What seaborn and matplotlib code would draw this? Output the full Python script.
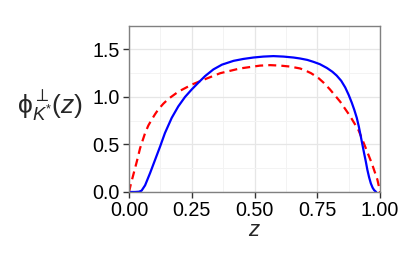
import pandas as pd
import matplotlib
matplotlib.use('Agg')
from matplotlib import pyplot as plt
from matplotlib.ticker import MultipleLocator
import seaborn as sns

# Values
z_red = [0.0, 0.008, 0.017, 0.031, 0.044, 0.064, 0.077, 0.09, 0.104, 0.117, 0.137,
         0.157, 0.196, 0.25, 0.296, 0.363, 0.442, 0.522, 0.562, 0.602, 0.641, 0.681,
         0.701, 0.725, 0.754, 0.775, 0.8, 0.841, 0.88, 0.914, 0.94, 0.967, 0.989, 1.0]
phi_red = [0.0, 0.09, 0.18, 0.32, 0.46, 0.62, 0.70, 0.76, 0.82, 0.87, 0.93,
           0.98, 1.055, 1.13, 1.18, 1.25, 1.30, 1.33, 1.335, 1.33, 1.32, 1.30,
           1.28, 1.25, 1.20, 1.15, 1.08, 0.95, 0.80, 0.65, 0.48, 0.30, 0.13, 0.0]

z_blue = [0.0, 0.024, 0.04, 0.05, 0.064, 0.084, 0.104, 0.124, 0.143, 0.17, 0.196,
          0.223, 0.25, 0.276, 0.303, 0.336, 0.37, 0.416, 0.455, 0.495, 0.535, 0.575,
          0.615, 0.655, 0.681, 0.71, 0.734, 0.76, 0.788, 0.81, 0.827, 0.845, 0.861,
          0.875, 0.887, 0.897, 0.907, 0.915, 0.923, 0.93, 0.936, 0.943, 0.949, 0.956,
          0.963, 0.97, 0.976, 0.984]
phi_blue = [0.0, 0.0, 0.003, 0.014, 0.07, 0.20, 0.34, 0.48, 0.62, 0.78, 0.90,
            1.00, 1.08, 1.15, 1.22, 1.29, 1.34, 1.38, 1.40, 1.415, 1.425, 1.43,
            1.425, 1.415, 1.405, 1.39, 1.37, 1.345, 1.305, 1.265, 1.225, 1.17, 1.10,
            1.02, 0.94, 0.865, 0.78, 0.69, 0.585, 0.49, 0.41, 0.32, 0.235, 0.155,
            0.09, 0.045, 0.02, 0.0]

x_ticks = [0.0, 0.25, 0.5, 0.75, 1.0]
x_labels = ['0.00', '0.25', '0.50', '0.75', '1.00']
y_ticks = [0.0, 0.5, 1.0, 1.5]
y_labels = ['0.0', '0.5', '1.0', '1.5']

red = pd.DataFrame({'z': z_red, 'phi': phi_red})
blue = pd.DataFrame({'z': z_blue, 'phi': phi_blue})

sns.set_style('white')
plt.rcParams['font.family'] = ['Liberation Sans', 'DejaVu Sans']
plt.rcParams['mathtext.fontset'] = 'custom'
plt.rcParams['mathtext.rm'] = 'Liberation Sans'
plt.rcParams['mathtext.it'] = 'Liberation Sans:italic'

fig = plt.figure(figsize=(4.07, 2.57), dpi=100)
ax = fig.add_axes([0.317, 0.253, 0.617, 0.647])

sns.lineplot(data=red, x='z', y='phi', color='red', linewidth=1.6,
             ax=ax, estimator=None, sort=False)
ax.lines[0].set_dashes([3.6, 2.3])
sns.lineplot(data=blue, x='z', y='phi', color='blue', linewidth=1.6,
             ax=ax, estimator=None, sort=False)

ax.set_xlim(0, 1)
ax.set_ylim(0, 1.75)
ax.set_xticks(x_ticks)
ax.set_xticklabels(x_labels)
ax.set_yticks(y_ticks)
ax.set_yticklabels(y_labels)
ax.xaxis.set_minor_locator(MultipleLocator(0.125))
ax.yaxis.set_minor_locator(MultipleLocator(0.25))

ax.grid(which='major', color='#e6e6e6', linewidth=0.9)
ax.grid(which='minor', color='#f3f3f3', linewidth=0.7)
ax.set_axisbelow(True)
for s in ax.spines.values():
    s.set_color('#808080')
    s.set_linewidth(1.0)

ax.tick_params(which='major', direction='out', length=4, width=1, color='#333333',
               labelsize=14.2, labelcolor='black', pad=2.5, bottom=True, left=True)
ax.tick_params(which='minor', length=0)

ax.set_xlabel('$z$', fontsize=16)
ax.xaxis.set_label_coords(0.5, -0.17)
ax.set_ylabel(r'$\mathrm{\phi}^{\perp}_{K^{*}}(z)$', fontsize=19, rotation=0, va='center')
ax.yaxis.set_label_coords(-0.315, 0.52)

plt.savefig('out.png', dpi=100)
